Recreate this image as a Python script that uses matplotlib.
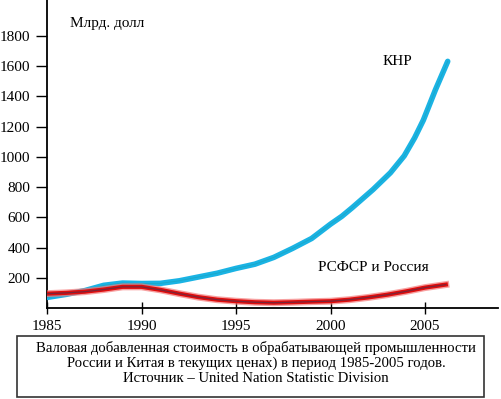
import matplotlib
matplotlib.use("Agg")
from matplotlib import pyplot as plt
from matplotlib.patches import Rectangle

plt.rcParams['font.family'] = ['Liberation Serif', 'DejaVu Serif']

# values (billion USD)
china_years = [1985, 1986, 1987, 1988, 1989, 1990, 1991, 1992, 1993, 1994, 1995,
               1996, 1997, 1998, 1999, 2000, 2000.6, 2001.15, 2002.25, 2003.17,
               2003.9, 2004.45, 2004.91, 2005.55, 2006.2]
china_vals = [70, 90, 115, 150, 165, 162, 163, 180, 205, 230, 262,
              290, 335, 395, 460, 555, 607, 664, 784, 895,
              1007, 1126, 1243, 1444, 1632]

russia_years = [1985, 1986, 1987, 1988, 1989, 1990, 1991, 1992, 1993, 1994, 1995,
                1996, 1997, 1998, 1999, 2000, 2001, 2002, 2003, 2004, 2005, 2006.1]
russia_vals = [95, 100, 108, 122, 140, 140, 120, 95, 72, 55, 45,
               38, 35, 38, 42, 45, 55, 70, 88, 110, 135, 155]

x_ticks = [1985, 1990, 1995, 2000, 2005]
y_ticks = [200, 400, 600, 800, 1000, 1200, 1400, 1600, 1800]

fig = plt.figure(figsize=(5.01, 3.99), dpi=100)
ax = fig.add_axes([47 / 501, 91 / 399, 451 / 501, 308 / 399])

# china
ax.plot(china_years, china_vals, color='#1ab3e4', lw=4, solid_capstyle='round', zorder=3)
ax.plot(china_years, china_vals, color='#1b9fae', lw=0.7, alpha=0.5, zorder=3)
# russia
ax.plot(russia_years, russia_vals, color='#f47a7a', lw=5, alpha=0.7, zorder=4)
ax.plot(russia_years, russia_vals, color='#e00d0d', lw=3, zorder=4)
ax.plot(russia_years, russia_vals, color='#7a2438', lw=0.9, zorder=4)

ax.set_xlim(1985, 2008.86)
ax.set_ylim(0, 2038)
ax.set_xticks(x_ticks)
ax.set_yticks(y_ticks)
ax.tick_params(axis='x', direction='inout', length=9, width=1, pad=4, labelsize=11)
ax.tick_params(axis='y', direction='out', length=8, width=1, pad=4, labelsize=11)

for s in ['top', 'right']:
    ax.spines[s].set_visible(False)
for s in ['left', 'bottom']:
    ax.spines[s].set_linewidth(1.3)

ax.text(1986.2, 1880, 'Млрд. долл', fontsize=11, va='center', ha='left')
ax.text(2002.75, 1630, 'КНР', fontsize=11, va='center', ha='left')
ax.text(1999.35, 265, 'РСФСР и Россия', fontsize=11, va='center', ha='left')

# caption box
fig.patches.append(Rectangle((17 / 501, 2 / 399), 467 / 501, 61 / 399,
                             transform=fig.transFigure, fill=False,
                             edgecolor='#333333', lw=1.2))
fig.text(256 / 501, 36 / 399,
         'Валовая добавленная стоимость в обрабатывающей промышленности\n'
         'России и Китая в текущих ценах) в период 1985-2005 годов.\n'
         'Источник – United Nation Statistic Division',
         ha='center', va='center', fontsize=10.65, linespacing=1.2)

fig.savefig('out.png', dpi=100)
